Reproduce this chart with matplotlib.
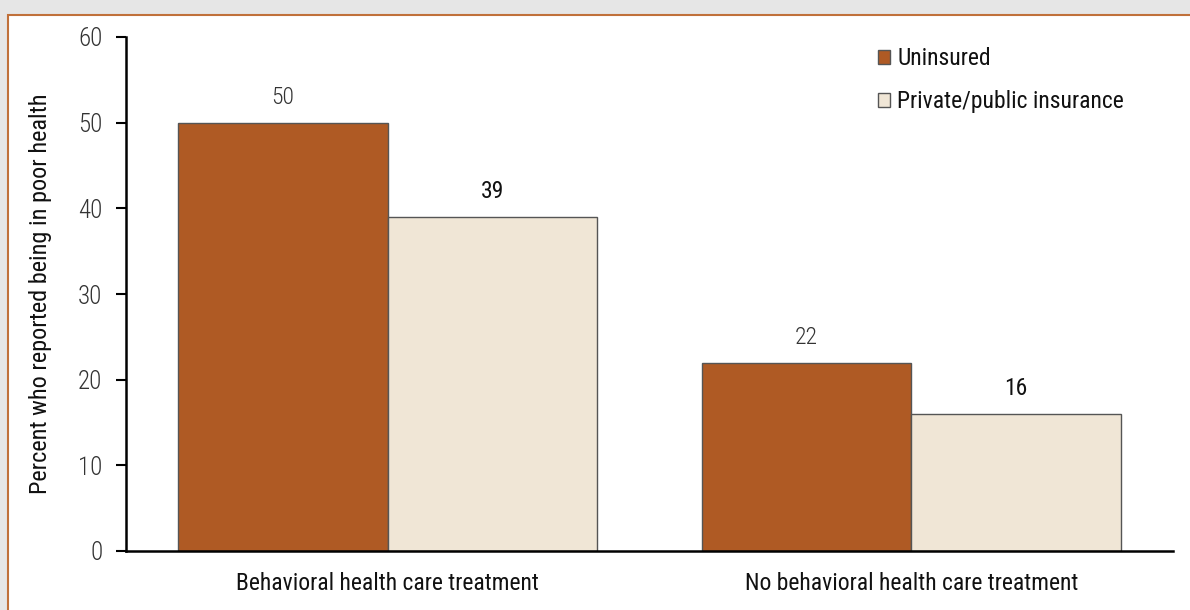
import matplotlib
matplotlib.use("Agg")
import matplotlib.pyplot as plt
import matplotlib.patches as mpatches
import numpy as np

plt.rcParams["font.family"] = ["Roboto Condensed", "Archivo Narrow", "DejaVu Sans"]

categories = ["Behavioral health care treatment", "No behavioral health care treatment"]
uninsured = [50, 22]
insured = [39, 16]
series_names = ["Uninsured", "Private/public insurance"]

BG = "#e6e6e6"
BORDER = "#c0703a"
UNINS = "#af5a24"
INS = "#f0e6d6"
EDGE = "#555555"
TEXT = "#111111"
LIGHT = "#333333"

fig = plt.figure(figsize=(11.9, 6.1), dpi=100, facecolor=BG)

# white panel with orange border, open to the right and bottom
panel = mpatches.Rectangle((8 / 1190, -0.05), 1.2, (610 - 15) / 610 + 0.05,
                           transform=fig.transFigure, facecolor="white",
                           edgecolor=BORDER, linewidth=1.5, zorder=-5)
fig.patches.append(panel)

ax = fig.add_axes([126 / 1190, 59 / 610, 1047 / 1190, 514 / 610])
ax.patch.set_alpha(0)

x = np.arange(len(categories))
w = 0.4
b1 = ax.bar(x - w / 2, uninsured, w, color=UNINS, edgecolor=EDGE, linewidth=1, label=series_names[0])
b2 = ax.bar(x + w / 2, insured, w, color=INS, edgecolor=EDGE, linewidth=1, label=series_names[1])

for bars, wt, col in ((b1, "light", LIGHT), (b2, "normal", TEXT)):
    for r in bars:
        ax.text(r.get_x() + r.get_width() / 2, r.get_height() + 1.6, f"{r.get_height():.0f}",
                ha="center", va="bottom", fontsize=17, color=col, fontweight=wt)

ax.set_xlim(-0.5, 1.5)
ax.set_ylim(0, 60)
ax.set_yticks(range(0, 61, 10))
ax.set_xticks(x)
ax.set_xticklabels(categories, fontsize=17, color=TEXT)
ax.tick_params(axis="x", length=0, pad=15)
ax.tick_params(axis="y", labelsize=18, colors="black", labelcolor=LIGHT,
               length=7, width=1.5, pad=10, direction="out")
for t in ax.get_yticklabels():
    t.set_fontweight("light")
for s in ("top", "right"):
    ax.spines[s].set_visible(False)
for s in ("left", "bottom"):
    ax.spines[s].set_linewidth(1.8)
    ax.spines[s].set_color("black")

ax.set_ylabel("Percent who reported being in poor health", fontsize=17.5, color=TEXT, labelpad=19)

leg = ax.legend(loc="upper left", bbox_to_anchor=(0.707, 1.003), frameon=False, borderpad=0,
                fontsize=17, handlelength=0.52, handleheight=0.52, handletextpad=0.3,
                labelspacing=0.85)
for t in leg.get_texts():
    t.set_color(TEXT)

fig.savefig("out.png", dpi=100, facecolor=BG)
